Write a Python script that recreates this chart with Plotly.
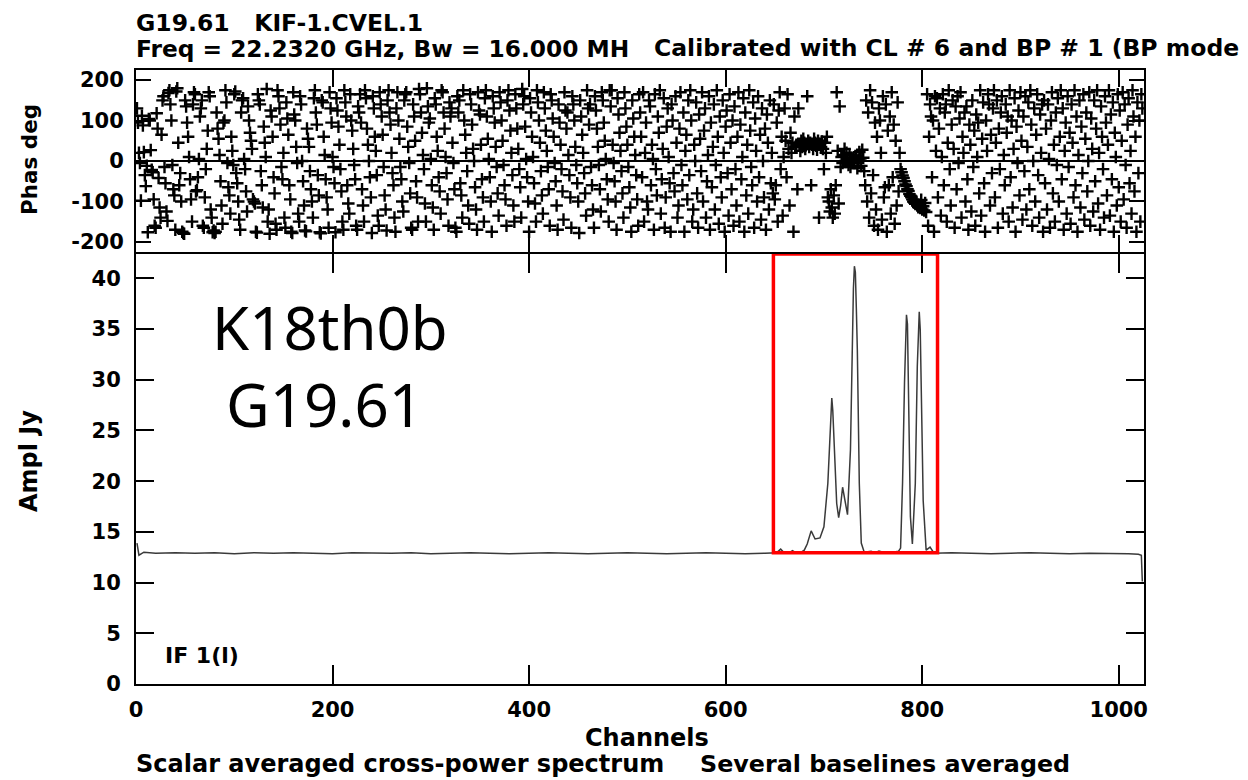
import plotly.graph_objects as go

# ---------------- data ----------------
# Phase (deg) per channel 1..1024
phase_deg = [
130, 95, 20, -5, -98, 112, 88, 22, -35, -62, -12, -176, 104, 100, 27, -22, -28, -95, -160, -165, 118, 80, -42, -115, -140, 65, 150, 160, -15, -55, -125, -148,
168, 175, 140, 100, -10, -70, -85, -170, 172, 180, 45, -60, -30, -100, -175, -178, -180, 150, 135, 95, 60, 10, -45, -95, -150, 140, 170, 165, -75, -72, -40, 5,
110, 130, 150, -160, -165, -90, -20, 30, 75, 170, 160, -120, -140, -176, -172, -178, -175, 120, 80, 55, 15, -50, -110, -155, 95, 100, 175, 145, -5, -65, -85, -130,
60, 25, -10, 165, 172, -30, -55, -100, -145, -170, 120, 150, 155, 5, -20, -75, -125, 135, 100, 70, 50, 30, -95, -100, -105, -175, -177, 165, 150, 140, -25, -60,
-115, 85, 45, 10, 178, -150, -120, -180, 125, 110, 60, -40, -80, -155, -170, 175, 160, 130, 90, -15, -45, 20, -140, -165, 145, 105, 65, -60, -95, -175, -178, 170,
115, 100, 35, -5, -130, -150, 160, 140, 0, -50, -110, -172, -174, 80, 55, 35, -25, -70, -100, -140, 155, 175, 120, 90, -35, -85, -176, -179, 150, 145, 60, 15,
-45, -90, -120, -165, 170, 130, 95, 10, -15, -55, -176, 155, 125, 85, 40, -20, -75, -150, -170, 175, 145, 110, -60, -105, -130, 165, 100, 75, 30, -10, -45, -160,
-170, 135, 120, 165, 95, -70, -110, -150, 175, 155, 80, 40, 0, -40, -90, -178, 160, 130, 60, 25, -35, -135, -160, 170, 140, 110, 65, -15, -85, -120, -172, 150,
175, 120, 90, 20, -30, -60, -140, -175, 130, 170, 100, 55, -15, -45, -100, -125, 150, 165, 170, 85, 35, -5, -80, -165, -170, 140, 110, 50, -50, -90, -150, 178,
165, 120, 70, 15, -20, -105, -150, 180, 135, 95, 105, 5, -60, -115, -170, 155, 140, 60, 25, -40, -75, -130, 175, 170, 120, 80, 10, -30, -95, -160, 145, 110,
130, 45, -5, -70, -165, -175, 160, 120, 150, -55, -85, -140, 175, 100, 65, 20, -25, -110, -155, 165, 140, 90, 30, 0, -65, -120, -170, 170, 125, 115, 40, -45,
-90, -150, 155, 175, 110, 55, 5, -40, -100, -175, 160, 130, 95, 35, -15, -80, -135, 170, 145, 100, 50, -10, -60, -95, -160, 150, 175, 125, 75, 20, -35, -110,
-150, 165, 130, 80, 30, -20, -65, -140, 178, 140, 160, 85, 5, -40, -100, -175, 155, 120, 60, 10, -55, -105, -150, 175, 145, 100, 45, -25, -85, -130, 170, 130,
75, 25, -15, -70, -160, 165, 150, 105, 60, -5, -50, -110, -170, 140, 95, 40, -20, -75, -145, 170, 125, 80, 120, 15, -35, -90, -165, 160, 140, 100, 35, -10,
-55, -100, -178, 150, 110, 65, 20, -30, -80, -135, 175, 130, 90, 140, -15, -60, -120, -165, 160, 125, 80, 35, -10, -70, -125, 170, 150, 95, 50, 5, -45, -95,
-150, 175, 135, 175, 40, -5, -50, -100, -170, 155, 115, 70, 25, -25, -80, -140, 170, 130, 85, 40, -15, -65, -115, -175, 150, 105, 60, 15, -35, -95, -160, 165,
120, 60, -40, 170, -150, 20, 95, -100, -120, 150, 135, -60, 40, 5, -170, 165, -20, -85, 110, 70, 175, -130, -45, 30, 155, -165, -90, 85, 130, 10, -55, -175,
140, 100, -30, -75, 160, 45, -140, -110, 80, 170, -10, -60, 120, -175, 25, 65, -95, 150, -35, 175, 100, -150, -120, 40, 0, 145, -80, -165, 115, 55, -25, 170,
-100, 75, 130, -140, -50, 15, 160, -170, 95, -65, 35, 140, -120, -10, 175, 60, -155, 110, -40, -90, 150, 20, -175, 85, 125, -30, -135, 165, 45, -70, 100, -160,
135, -20, -110, 60, 170, -150, 90, -45, 10, 155, -175, 120, -85, 40, -130, 175, 75, -15, -60, 145, -165, 105, 25, -100, 160, -40, 65, -145, 130, 0, -90, 80,
-170, 115, 45, -120, 150, -55, 20, -80, 140, -95, -60, 95, -150, 125, 170, -20, 60, -135, 10, 130, 50, -40, 165, 30, -110, 70, 20, 45, -175, 110, 35, 40,
-70, 130, 40, 25, 50, 35, 55, 45, 30, 40, 160, 50, 35, 45, -60, 40, 30, 55, 45, 38, 28, 50, -140, 42, 35, 48, 30, -20, 45, 20, 60, -90,
-100, -125, -70, -115, -140, -85, -130, -60, 170, 25, -105, 135, -15, 10, -5, 15, 30, 0, 20, 5, -10, 15, -15, 8, 0, 5, -5, 12, 10, -18, 2, 22,
6, -12, 28, 8, -25, -60, 150, -100, 120, -140, 175, -80, 145, -35, -160, 95, -120, 60, -170, 130, 100, 20, -145, 160, -90, -65, 140, -175, 75, -60, 110, -130,
170, -40, 90, -155, 50, -110, 145, -75, 20, -20, -28, -36, -42, -50, -58, -62, -70, -74, -82, -86, -90, -95, -100, -103, -106, -100, -110, -114, -108, -116, -96, -120,
-112, -122, -104, -126, 165, -160, 60, 140, 110, -40, 100, -175, 160, 25, 155, -90, 80, 130, -135, 10, 165, -60, 120, 140, -150, 45, 175, -20, -110, 90, 150, 30,
-165, 135, -70, 160, -5, 105, 170, -140, 60, 20, 120, -100, 135, -45, -170, 90, 40, -125, 150, -15, 75, -160, 115, 10, 95, -80, 175, -135, 55, 145, -55, -175,
100, 25, 165, 140, -110, 65, -30, 130, 175, -90, 45, 150, -165, 80, -20, 120, 160, -130, 15, -60, 140, 70, 110, -150, 175, -40, 100, -115, 30, 155, -175, 85,
-5, 125, -85, 170, 50, -145, 110, -25, 160, -120, 35, 145, -70, 175, 90, -160, 0, 130, -100, 65, 165, -35, -140, 115, 20, 140, -175, 150, -55, 80, -120, 140,
5, -165, 100, 170, -80, 40, -150, 120, -10, 155, -100, 60, 175, -45, 130, -170, 25, 95, -130, 160, -15, 70, -155, 140, 45, -90, 175, -60, 110, -175, 15, 150,
-115, 85, -30, 165, -145, 55, 120, -75, 0, 170, -160, 105, 30, -125, 150, -50, 80, 175, -105, 20, -170, 135, 60, -20, -140, 160, 95, -85, 40, 175, -135, 115,
-45, 145, -175, 70, 10, -110, 165, -65, 125, -150, 50, 170, -95, 140, -10, -165, 90, 155, -55, 25, -130, 175, 110, -75, 60, -175, 145, -30, 100, -150, 165, 130,
]
phase_channels = list(range(1, len(phase_deg) + 1))

amp_channels = [
    1, 3, 8, 20, 40, 60, 80, 100, 120, 140, 160, 180, 200, 220, 240, 260, 280,
    300, 320, 340, 360, 380, 400, 420, 440, 460, 480, 500, 520, 540, 560, 580,
    600, 620, 640, 652, 656, 660, 665, 668, 672, 677, 680, 683, 687, 691, 696,
    700, 704, 706, 708, 709, 711, 713, 715, 717, 719, 722, 724, 727, 729, 730,
    731, 732, 733, 734, 736, 738, 741, 748, 752, 756, 764, 770, 776, 778, 780,
    782, 784, 785, 786, 788, 790, 793, 795, 797, 798, 799, 801, 804, 808, 812,
    830, 850, 870, 890, 910, 930, 950, 970, 990, 1010, 1020, 1023, 1024,
]
amp_jy = [
    13.9, 12.7, 13.0, 12.9, 12.95, 12.9, 12.95, 12.85, 12.95, 12.9, 12.95, 12.9, 12.85, 12.95, 12.9, 12.9, 12.95,
    12.85, 12.9, 12.95, 12.9, 12.85, 12.9, 12.95, 12.9, 12.85, 12.9, 12.95, 12.9, 12.85, 12.9, 12.95,
    12.9, 12.85, 12.9, 12.95, 13.3, 12.9, 12.95, 13.15, 12.9, 13.0, 13.2, 13.8, 15.1, 14.3, 14.4,
    15.5, 19.8, 24.4, 28.2, 27.0, 23.1, 17.8, 16.4, 17.6, 19.4, 17.5, 16.7, 23.1, 34.6, 39.0,
    41.2, 40.6, 37.0, 32.9, 19.8, 13.9, 13.0, 13.1, 12.95, 13.1, 12.9, 13.0, 13.1, 13.4, 19.8,
    29.7, 36.4, 35.5, 28.0, 16.5, 13.8, 19.8, 31.3, 36.7, 35.0, 29.7, 18.1, 13.2, 13.5, 12.9,
    12.95, 12.9, 12.85, 12.9, 12.95, 12.9, 12.85, 12.9, 12.9, 12.85, 12.8, 12.7, 10.1,
]

x_ticks = [0, 200, 400, 600, 800, 1000]
phase_ticks = [-200, -100, 0, 100, 200]
phase_tick_text = ["-200", "-100", "0", "100", "200"]
amp_ticks = [0, 5, 10, 15, 20, 25, 30, 35, 40]

# highlighted region (channels, Jy)
box_ch = [648.6, 815.6]
box_jy = [12.95, 42.4]

# ---------------- figure ----------------
# the page body keeps its default 8px margin, so the figure sits at (8, 8)
# and is sized to end exactly at the window's right/bottom edge
OFF = 8
W, H = 1248 - OFF, 780 - OFF
FONT = "DejaVu Sans"

fig = go.Figure()

fig.add_trace(go.Scatter(
    x=phase_channels, y=phase_deg, mode="markers", xaxis="x2", yaxis="y2",
    marker=dict(symbol="cross-thin", size=9, color="black",
                line=dict(color="black", width=2.4)),
    hoverinfo="skip", showlegend=False,
))

fig.add_trace(go.Scatter(
    x=amp_channels, y=amp_jy, mode="lines", xaxis="x", yaxis="y",
    line=dict(color="#3a3a3a", width=1.5),
    hoverinfo="skip", showlegend=False,
))

def px_x(p):
    return (p - OFF) / W

def px_y(p):
    return 1 - (p - OFF) / H

xdom = [px_x(136), px_x(1144.3)]
ydom_bottom = [px_y(684), px_y(254)]
ydom_top = [px_y(252), px_y(70)]

axis_common = dict(
    showline=True, linecolor="black", linewidth=2, mirror="ticks",
    ticks="inside", tickcolor="black", tickwidth=2,
    showgrid=False, zeroline=False, automargin=False,
    tickfont=dict(family=FONT, size=21, color="black", weight="bold"),
)

fig.update_layout(
    width=W, height=H,
    margin=dict(l=0, r=0, t=0, b=0, pad=0),
    paper_bgcolor="white", plot_bgcolor="white",
    xaxis=dict(domain=xdom, anchor="y", range=[0, 1026],
               tickvals=x_ticks, ticklen=19, ticklabelstandoff=6,
               **axis_common),
    yaxis=dict(domain=ydom_bottom, anchor="x", range=[0, 42.4],
               tickvals=amp_ticks, ticklen=18, ticklabelstandoff=9,
               **axis_common),
    xaxis2=dict(domain=xdom, anchor="y2", range=[0, 1026], matches="x",
                tickvals=x_ticks, ticklen=17, showticklabels=False,
                **axis_common),
    yaxis2=dict(domain=ydom_top, anchor="x2", range=[-225, 225],
                tickvals=phase_ticks, ticktext=phase_tick_text,
                ticklen=15, ticklabelstandoff=6,
                **axis_common),
)
fig.update_layout(yaxis2=dict(zeroline=True, zerolinecolor="black",
                              zerolinewidth=2))

fig.add_shape(type="rect", xref="x", yref="y",
              x0=box_ch[0], x1=box_ch[1], y0=box_jy[0], y1=box_jy[1],
              line=dict(color="#ff0000", width=3.5), layer="above")

def ann(text, x, y, size, xanchor="left", angle=0, bold=True, family=FONT):
    fig.add_annotation(
        text=text, x=px_x(x), y=px_y(y), xref="paper", yref="paper",
        xanchor=xanchor, yanchor="middle", showarrow=False, textangle=angle,
        font=dict(family=family, size=size, color="black",
                  weight="bold" if bold else "normal"),
    )

TS = 23.5
ann("G19.61   KIF-1.CVEL.1", 134, 23, TS)
ann("Freq = 22.2320 GHz, Bw = 16.000 MH", 134, 48.5, 23.3)
ann("Calibrated with CL # 6 and BP # 1 (BP mode", 652, 48.5, TS)
ann("Phas deg", 29, 160, 21.5, xanchor="center", angle=-90)
ann("Ampl Jy", 29, 461, 24, xanchor="center", angle=-90)
ann("Channels", 647, 738, 24, xanchor="center")
ann("Scalar averaged cross-power spectrum", 134, 764, 24)
ann("Several baselines averaged", 698, 764, 23.8)
ann("IF 1(l)", 163, 655, 22)
ann("K18th0b", 330, 327, 60, xanchor="center", bold=False, family="Noto Sans")
ann("G19.61", 324, 404, 60, xanchor="center", bold=False, family="Noto Sans")

fig.write_html("out.html", config={"displayModeBar": False})
